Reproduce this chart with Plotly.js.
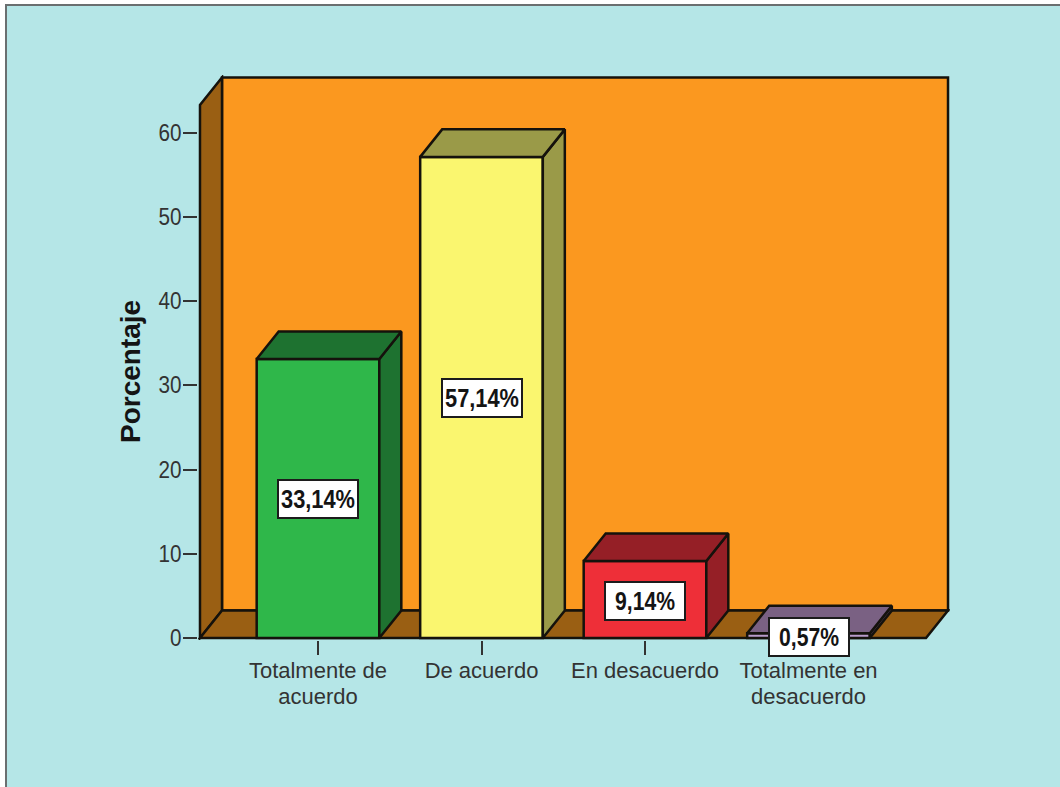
<!DOCTYPE html>
<html>
<head>
<meta charset="utf-8">
<script src="https://cdn.plot.ly/plotly-3.0.1.min.js"></script>
<style>
html,body{margin:0;padding:0;background:#fff;overflow:hidden}
#frame{position:absolute;left:5px;top:4px;width:1055px;height:783px;box-sizing:border-box;background:#b5e6e7;border-left:2px solid #6a6f70;border-top:2px solid #6a6f70}
#chart{position:absolute;left:0;top:0;width:1060px;height:787px}
</style>
</head>
<body>
<div id="frame"></div>
<div id="chart"></div>
<script>
var categories = ["Totalmente de<br>acuerdo", "De acuerdo", "En desacuerdo", "Totalmente en<br>desacuerdo"];
var values = [33.14, 57.14, 9.14, 0.57];
var frontColors = ["#2fb74a", "#faf66f", "#ee2f38", "#b99ccb"];
var topColors = ["#1e7230", "#9a9a48", "#951f26", "#7a6183"];
var sideColors = ["#1e7230", "#9a9a48", "#951f26", "#4d3d55"];
var yTicks = [0, 10, 20, 30, 40, 50, 60];
var yTitle = "Porcentaje";

var positions = categories.map(function (c, i) { return i; });
var barWidth = 0.75, depthX = 0.1346, depthY = 3.27;
var floorL = -0.7217, floorR = 3.7187, wallTop = 63.3;
var edge = "#15120c";

function polyPath(pts) {
  return "M" + pts.map(function (p) { return p[0] + "," + p[1]; }).join(" L") + " Z";
}
function wallShape(pts, fill) {
  return {type: "path", xref: "x", yref: "y", layer: "below", path: polyPath(pts),
          fillcolor: fill, line: {color: edge, width: 2.5}};
}
var shapes = [
  wallShape([[floorL + depthX, depthY], [floorR + depthX, depthY], [floorR + depthX, wallTop + depthY], [floorL + depthX, wallTop + depthY]], "#fb981f"),
  wallShape([[floorL, 0], [floorL + depthX, depthY], [floorL + depthX, wallTop + depthY], [floorL, wallTop]], "#9a5f13"),
  wallShape([[floorL, 0], [floorR, 0], [floorR + depthX, depthY], [floorL + depthX, depthY]], "#9a5f13")
];

function polygon(pts, fill) {
  return {type: "scatter", mode: "lines", x: pts.map(function (p) { return p[0]; }).concat(pts[0][0]),
          y: pts.map(function (p) { return p[1]; }).concat(pts[0][1]),
          fill: "toself", fillcolor: fill, line: {color: edge, width: 2.5}, showlegend: false, hoverinfo: "skip"};
}

var traces = [{
  type: "bar", x: positions, y: values, width: barWidth,
  marker: {color: frontColors, line: {color: edge, width: 2.5}}, showlegend: false, hoverinfo: "skip"
}];
values.forEach(function (v, i) {
  var l = i - barWidth / 2, r = i + barWidth / 2;
  traces.push(polygon([[r, 0], [r + depthX, depthY], [r + depthX, v + depthY], [r, v]], sideColors[i]));
  traces.push(polygon([[l, v], [r, v], [r + depthX, v + depthY], [l + depthX, v + depthY]], topColors[i]));
});

var annotations = values.map(function (v, i) {
  return {x: i, y: v / 2, xref: "x", yref: "y", yshift: -1, showarrow: false,
          text: v.toFixed(2).replace(".", ",") + "%",
          font: {family: "'Liberation Sans',sans-serif", size: 26, weight: 700, color: "#141414"},
          bgcolor: "#ffffff", bordercolor: "#1c1c1c", borderwidth: 2, width: 76, height: 34, align: "center", valign: "middle"};
});
annotations.push({x: 0.0, xref: "paper", xshift: -68, xanchor: "center", y: 0.5, yref: "paper", yshift: -14.5, yanchor: "middle",
  showarrow: false, textangle: -90, text: yTitle,
  font: {family: "'Liberation Sans',sans-serif", size: 28, weight: 700, color: "#141414"}});

var layout = {
  width: 1060, height: 787,
  margin: {l: 198, r: 110, t: 75, b: 147, pad: 0},
  paper_bgcolor: "rgba(0,0,0,0)", plot_bgcolor: "rgba(0,0,0,0)",
  showlegend: false, hovermode: false, bargap: 0,
  shapes: shapes, annotations: annotations,
  xaxis: {type: "linear", range: [-0.7339, 3.8654], tickmode: "array", tickvals: positions, ticktext: categories,
          ticks: "outside", ticklen: 14, tickwidth: 2, tickcolor: "#333", showgrid: false, zeroline: false, showline: false,
          tickangle: 0, ticklabelstandoff: -3, tickfont: {family: "'Liberation Sans',sans-serif", size: 22, color: "#333"}},
  yaxis: {range: [-0.2375, 66.865], tickmode: "array", tickvals: yTicks, ticktext: yTicks.map(String),
          ticks: "outside", ticklen: 14, tickwidth: 2, tickcolor: "#333", showgrid: false, zeroline: false, showline: false,
          ticklabelstandoff: -3, tickfont: {family: "'Liberation Sans',sans-serif", size: 23, color: "#333"}}
};
Plotly.newPlot("chart", traces, layout, {displayModeBar: false, staticPlot: true}).then(function (gd) {
  // narrow the glyphs the way the original renderer does
  function squeeze(el, w) {
    el.setAttribute("textLength", w);
    el.setAttribute("lengthAdjust", "spacingAndGlyphs");
  }
  gd.querySelectorAll(".annotation-text").forEach(function (t) {
    if (t.textContent.indexOf("%") >= 0) squeeze(t, t.textContent.length === 5 ? 60 : 74);
  });
  gd.querySelectorAll(".ytick text").forEach(function (t) {
    squeeze(t, t.textContent.length * 11.5);
  });
  gd.querySelectorAll(".xtick tspan.line").forEach(function (t, i) {
    if (parseFloat(t.getAttribute("dy") || "0") > 0) t.setAttribute("dy", "26px");
  });
});
</script>
</body>
</html>
